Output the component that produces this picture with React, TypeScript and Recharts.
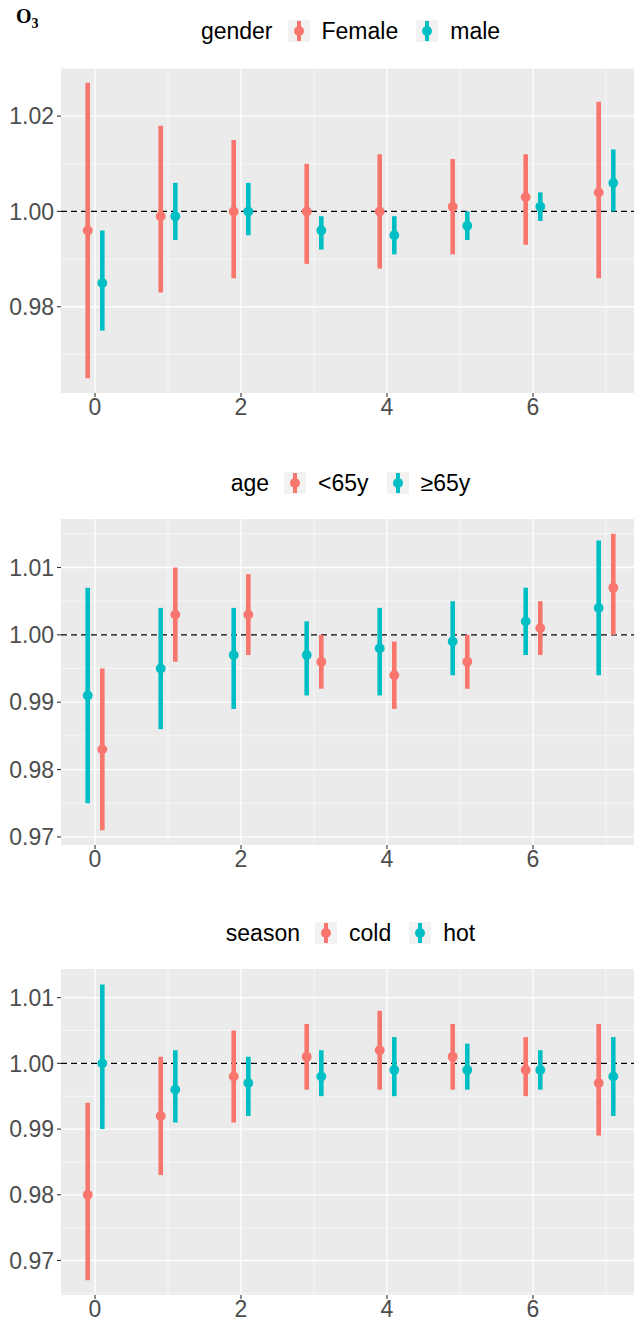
import React from 'react';
import { ComposedChart, Scatter, ErrorBar, XAxis, YAxis, CartesianGrid, ReferenceLine } from 'recharts';

const RED = '#F8766D';
const TEAL = '#00BFC4';
const FONT = '"Liberation Sans", Arial, Helvetica, sans-serif';
const DODGE = 0.1;

const lags = [0, 1, 2, 3, 4, 5, 6, 7];
const xTicks = [0, 2, 4, 6];
const xMinor = [1, 3, 5, 7];

// Panel 1: gender
const femaleEst = [0.996, 0.999, 1.0, 1.0, 1.0, 1.001, 1.003, 1.004];
const femaleLo = [0.965, 0.983, 0.986, 0.989, 0.988, 0.991, 0.993, 0.986];
const femaleHi = [1.027, 1.018, 1.015, 1.01, 1.012, 1.011, 1.012, 1.023];
const maleEst = [0.985, 0.999, 1.0, 0.996, 0.995, 0.997, 1.001, 1.006];
const maleLo = [0.975, 0.994, 0.995, 0.992, 0.991, 0.994, 0.998, 1.0];
const maleHi = [0.996, 1.006, 1.006, 0.999, 0.999, 1.0, 1.004, 1.013];
const genderTicks = [0.98, 1.0, 1.02];
const genderMinor = [0.97, 0.99, 1.01, 1.03];

// Panel 2: age
const over65Est = [0.991, 0.995, 0.997, 0.997, 0.998, 0.999, 1.002, 1.004];
const over65Lo = [0.975, 0.986, 0.989, 0.991, 0.991, 0.994, 0.997, 0.994];
const over65Hi = [1.007, 1.004, 1.004, 1.002, 1.004, 1.005, 1.007, 1.014];
const under65Est = [0.983, 1.003, 1.003, 0.996, 0.994, 0.996, 1.001, 1.007];
const under65Lo = [0.971, 0.996, 0.997, 0.992, 0.989, 0.992, 0.997, 1.0];
const under65Hi = [0.995, 1.01, 1.009, 1.0, 0.999, 1.0, 1.005, 1.015];
const ageTicks = [0.97, 0.98, 0.99, 1.0, 1.01];
const ageMinor = [0.975, 0.985, 0.995, 1.005, 1.015];

// Panel 3: season
const coldEst = [0.98, 0.992, 0.998, 1.001, 1.002, 1.001, 0.999, 0.997];
const coldLo = [0.967, 0.983, 0.991, 0.996, 0.996, 0.996, 0.995, 0.989];
const coldHi = [0.994, 1.001, 1.005, 1.006, 1.008, 1.006, 1.004, 1.006];
const hotEst = [1.0, 0.996, 0.997, 0.998, 0.999, 0.999, 0.999, 0.998];
const hotLo = [0.99, 0.991, 0.992, 0.995, 0.995, 0.996, 0.996, 0.992];
const hotHi = [1.012, 1.002, 1.001, 1.002, 1.004, 1.003, 1.002, 1.004];
const seasonTicks = [0.97, 0.98, 0.99, 1.0, 1.01];
const seasonMinor = [0.965, 0.975, 0.985, 0.995, 1.005];

function build(est: number[], lo: number[], hi: number[], offset: number) {
  return lags.map((l, i) => ({ x: l + offset, y: est[i], err: [est[i] - lo[i], hi[i] - est[i]] }));
}

const makeDot = (color: string) => (p: any) => <circle cx={p.cx} cy={p.cy} r={4.9} fill={color} />;

function Key({ color }: { color: string }) {
  return (
    <svg width={22} height={22} style={{ display: 'block' }}>
      <rect x={0} y={0} width={22} height={22} fill="#F2F2F2" />
      <line x1={11} x2={11} y1={1} y2={21} stroke={color} strokeWidth={4} />
      <circle cx={11} cy={11} r={5} fill={color} />
    </svg>
  );
}

function Legend({ top, title, items }: { top: number; title: string; items: { label: string; color: string }[] }) {
  return (
    <div
      style={{
        position: 'absolute', top, left: 61, width: 579, height: 30,
        display: 'flex', alignItems: 'center', justifyContent: 'center',
        fontFamily: FONT, fontSize: 23, color: '#000',
      }}
    >
      <span style={{ marginRight: 15 }}>{title}</span>
      {items.map((it, i) => (
        <React.Fragment key={it.label}>
          <Key color={it.color} />
          <span style={{ marginLeft: 12, marginRight: i < items.length - 1 ? 18 : 0 }}>{it.label}</span>
        </React.Fragment>
      ))}
    </div>
  );
}

type Series = { data: any[]; color: string; name: string };

function Panel({ top, marginTop, marginBottom, domain, ticks, minor, series }: {
  top: number; marginTop: number; marginBottom: number; domain: [number, number];
  ticks: number[]; minor: number[]; series: Series[];
}) {
  const tickStyle = { fill: '#4D4D4D', fontSize: 23, fontFamily: FONT };
  return (
    <div style={{ position: 'absolute', top, left: 0 }}>
      <ComposedChart width={650} height={450} margin={{ top: marginTop, right: 10, left: 0, bottom: marginBottom }}>
        <CartesianGrid fill="#EBEBEB" fillOpacity={1} stroke="#FFFFFF" strokeWidth={0.6}
          horizontalValues={minor} verticalValues={xMinor} />
        <CartesianGrid stroke="#FFFFFF" strokeWidth={1.3}
          horizontalValues={ticks} verticalValues={xTicks} />
        <XAxis type="number" dataKey="x" domain={[-0.466, 7.466]} allowDataOverflow ticks={xTicks}
          tick={tickStyle} tickLine={{ stroke: '#333333', strokeWidth: 1.1 }} tickSize={4} tickMargin={2}
          axisLine={false} height={30} interval={0} />
        <YAxis type="number" dataKey="y" domain={domain} allowDataOverflow ticks={ticks}
          tickFormatter={(v: number) => v.toFixed(2)} tick={tickStyle}
          tickLine={{ stroke: '#333333', strokeWidth: 1.1 }} tickSize={4} tickMargin={3}
          axisLine={false} width={61} interval={0} />
        <ReferenceLine y={1} stroke="#000000" strokeDasharray="6 4" strokeWidth={1.2} />
        {series.map((s) => (
          <Scatter key={s.name} name={s.name} data={s.data} isAnimationActive={false}
            shape={makeDot(s.color)} fill={s.color}>
            <ErrorBar dataKey="err" direction="y" width={0} stroke={s.color} strokeWidth={4.6}
              isAnimationActive={false} />
          </Scatter>
        ))}
      </ComposedChart>
    </div>
  );
}

export default function App() {
  return (
    <div style={{ position: 'absolute', left: 0, top: 0, width: 634, height: 1319, overflow: 'hidden', background: '#FFFFFF' }}>
      <div style={{ position: 'absolute', left: 16, top: 5, fontFamily: '"Liberation Serif", "Times New Roman", serif', fontWeight: 'bold', fontSize: 20, color: '#000' }}>
        O<sub style={{ fontSize: 14 }}>3</sub>
      </div>
      <Legend top={16} title="gender" items={[{ label: 'Female', color: RED }, { label: 'male', color: TEAL }]} />
      <Panel top={0} marginTop={68} marginBottom={27} domain={[0.9619, 1.0301]} ticks={genderTicks} minor={genderMinor}
        series={[
          { name: 'Female', color: RED, data: build(femaleEst, femaleLo, femaleHi, -DODGE) },
          { name: 'male', color: TEAL, data: build(maleEst, maleLo, maleHi, DODGE) },
        ]} />
      <Legend top={468} title="age" items={[{ label: '<65y', color: RED }, { label: '≥65y', color: TEAL }]} />
      <Panel top={450} marginTop={69} marginBottom={25} domain={[0.9688, 1.0172]} ticks={ageTicks} minor={ageMinor}
        series={[
          { name: '≥65y', color: TEAL, data: build(over65Est, over65Lo, over65Hi, -DODGE) },
          { name: '<65y', color: RED, data: build(under65Est, under65Lo, under65Hi, DODGE) },
        ]} />
      <Legend top={918} title="season" items={[{ label: 'cold', color: RED }, { label: 'hot', color: TEAL }]} />
      <Panel top={900} marginTop={69} marginBottom={25} domain={[0.96475, 1.01436]} ticks={seasonTicks} minor={seasonMinor}
        series={[
          { name: 'cold', color: RED, data: build(coldEst, coldLo, coldHi, -DODGE) },
          { name: 'hot', color: TEAL, data: build(hotEst, hotLo, hotHi, DODGE) },
        ]} />
    </div>
  );
}
